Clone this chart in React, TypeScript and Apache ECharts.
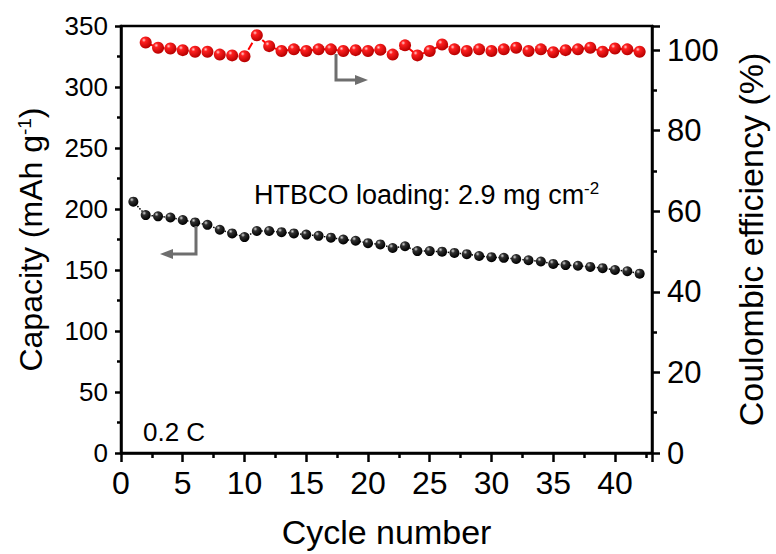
import React, { useEffect, useRef } from "react";
import * as echarts from "echarts";

const cycles = [1, 2, 3, 4, 5, 6, 7, 8, 9, 10, 11, 12, 13, 14, 15, 16, 17, 18, 19, 20, 21, 22, 23, 24, 25, 26, 27, 28, 29, 30, 31, 32, 33, 34, 35, 36, 37, 38, 39, 40, 41, 42];
const capacity = [206, 195, 194, 193, 191, 189, 187, 183, 180, 177, 182, 182, 181, 180, 179, 178, 176.5, 175, 174, 172, 171, 168, 169.5, 165.5, 165.5, 165, 164, 163, 161.5, 160.5, 160, 159, 158, 157, 155, 154, 153.5, 152.5, 151.5, 150, 149, 147];
const ceCycles = [2, 3, 4, 5, 6, 7, 8, 9, 10, 11, 12, 13, 14, 15, 16, 17, 18, 19, 20, 21, 22, 23, 24, 25, 26, 27, 28, 29, 30, 31, 32, 33, 34, 35, 36, 37, 38, 39, 40, 41, 42];
const efficiency = [101.9, 100.6, 100.4, 100, 99.6, 99.6, 98.9, 98.7, 98.5, 103.7, 101, 99.8, 100.2, 99.8, 100.2, 100.2, 99.8, 100, 99.8, 100.1, 98.9, 101.2, 98.7, 99.8, 101.4, 100.2, 99.8, 100.2, 99.8, 100.2, 100.6, 99.8, 100.2, 99.5, 100, 100.2, 100.6, 99.6, 100.4, 100.2, 99.6];

const FONT = "'Liberation Sans', Arial, Helvetica, sans-serif";
const ARROW = "#6e6e6e";

export default function App() {
  const ref = useRef<HTMLDivElement>(null);
  useEffect(() => {
    if (!ref.current) return;
    const chart = echarts.init(ref.current, null, { renderer: "svg" });
    const redBall = new echarts.graphic.RadialGradient(0.35, 0.3, 0.7, [
      { offset: 0, color: "#ffd0d0" },
      { offset: 0.25, color: "#ff2020" },
      { offset: 1, color: "#b80000" },
    ]);
    const blackBall = new echarts.graphic.RadialGradient(0.35, 0.3, 0.7, [
      { offset: 0, color: "#d8d8d8" },
      { offset: 0.3, color: "#303030" },
      { offset: 1, color: "#000000" },
    ]);
    const axisLine = { show: true, lineStyle: { color: "#000", width: 2.5 } };
    chart.setOption({
      animation: false,
      backgroundColor: "#fff",
      grid: {
        left: 121,
        right: 124,
        top: 26,
        bottom: 99,
        show: true,
        borderColor: "#000",
        borderWidth: 2.5,
      },
      xAxis: {
        type: "value",
        min: 0,
        max: 43,
        interval: 5,
        name: "Cycle number",
        nameLocation: "middle",
        nameGap: 62,
        nameTextStyle: { fontFamily: FONT, fontSize: 34, color: "#000" },
        axisLine,
        axisTick: { show: true, inside: false, length: 9, lineStyle: { color: "#000", width: 2.5 } },
        minorTick: { show: true, splitNumber: 2, length: 5, lineStyle: { color: "#000", width: 2.5 } },
        axisLabel: { fontFamily: FONT, fontSize: 32, color: "#000", margin: 14, showMaxLabel: false },
        splitLine: { show: false },
      },
      yAxis: [
        {
          type: "value",
          min: 0,
          max: 350,
          interval: 50,
          position: "left",
          name: "Capacity (mAh g{sup|-1})",
          nameLocation: "middle",
          nameGap: 74,
          nameTextStyle: {
            fontFamily: FONT,
            fontSize: 32,
            color: "#000",
            rich: { sup: { fontFamily: FONT, fontSize: 19, color: "#000", verticalAlign: "top", lineHeight: 32 } },
          },
          axisLine,
          axisTick: { show: true, inside: false, length: 6, lineStyle: { color: "#000", width: 2.5 } },
          minorTick: { show: true, splitNumber: 2, length: 4, lineStyle: { color: "#000", width: 2.5 } },
          axisLabel: { fontFamily: FONT, fontSize: 26, color: "#000", margin: 13 },
          splitLine: { show: false },
        },
        {
          type: "value",
          min: 0,
          max: 106,
          interval: 20,
          position: "right",
          name: "Coulombic efficiency (%)",
          nameLocation: "middle",
          nameGap: 82,
          nameRotate: 90,
          nameTextStyle: { fontFamily: FONT, fontSize: 34, color: "#000" },
          axisLine,
          axisTick: { show: true, inside: false, length: 8, lineStyle: { color: "#000", width: 2.5 } },
          minorTick: { show: true, splitNumber: 2, length: 5, lineStyle: { color: "#000", width: 2.5 } },
          axisLabel: { fontFamily: FONT, fontSize: 31, color: "#000", margin: 15, showMaxLabel: false },
          splitLine: { show: false },
        },
      ],
      series: [
        {
          type: "line",
          yAxisIndex: 0,
          data: cycles.map((c, i) => [c, capacity[i]]),
          symbol: "circle",
          symbolSize: 10,
          itemStyle: { color: blackBall, borderWidth: 0 },
          lineStyle: { color: "#000", width: 1.5, type: "dotted" },
          z: 3,
        },
        {
          type: "line",
          yAxisIndex: 1,
          data: ceCycles.map((c, i) => [c, efficiency[i]]),
          symbol: "circle",
          symbolSize: 12,
          itemStyle: { color: redBall, borderWidth: 0 },
          lineStyle: { color: "#ff0000", width: 2, type: "dashed" },
          z: 3,
        },
      ],
      graphic: [
        {
          type: "polyline",
          shape: { points: [[336, 54], [336, 80], [356, 80]] },
          style: { stroke: ARROW, lineWidth: 3, fill: null },
          z: 10,
        },
        {
          type: "polygon",
          shape: { points: [[355, 75], [368, 80], [355, 85]] },
          style: { fill: ARROW },
          z: 10,
        },
        {
          type: "polyline",
          shape: { points: [[196, 226], [196, 254], [172, 254]] },
          style: { stroke: ARROW, lineWidth: 3, fill: null },
          z: 10,
        },
        {
          type: "polygon",
          shape: { points: [[173, 249], [160, 254], [173, 259]] },
          style: { fill: ARROW },
          z: 10,
        },
        {
          type: "text",
          x: 254,
          y: 180,
          style: {
            text: "HTBCO loading: 2.9 mg cm{sup|-2}",
            fontFamily: FONT,
            fontSize: 27,
            fill: "#000",
            rich: { sup: { fontFamily: FONT, fontSize: 17, fill: "#000", verticalAlign: "top", lineHeight: 30 } },
            lineHeight: 30,
          },
          z: 10,
        },
        {
          type: "text",
          x: 143,
          y: 419,
          style: { text: "0.2 C", fontFamily: FONT, fontSize: 26, fill: "#000" },
          z: 10,
        },
      ],
    });
    return () => chart.dispose();
  }, []);
  return <div ref={ref} style={{ width: 776, height: 554, position: "absolute", left: 0, top: 0 }} />;
}
